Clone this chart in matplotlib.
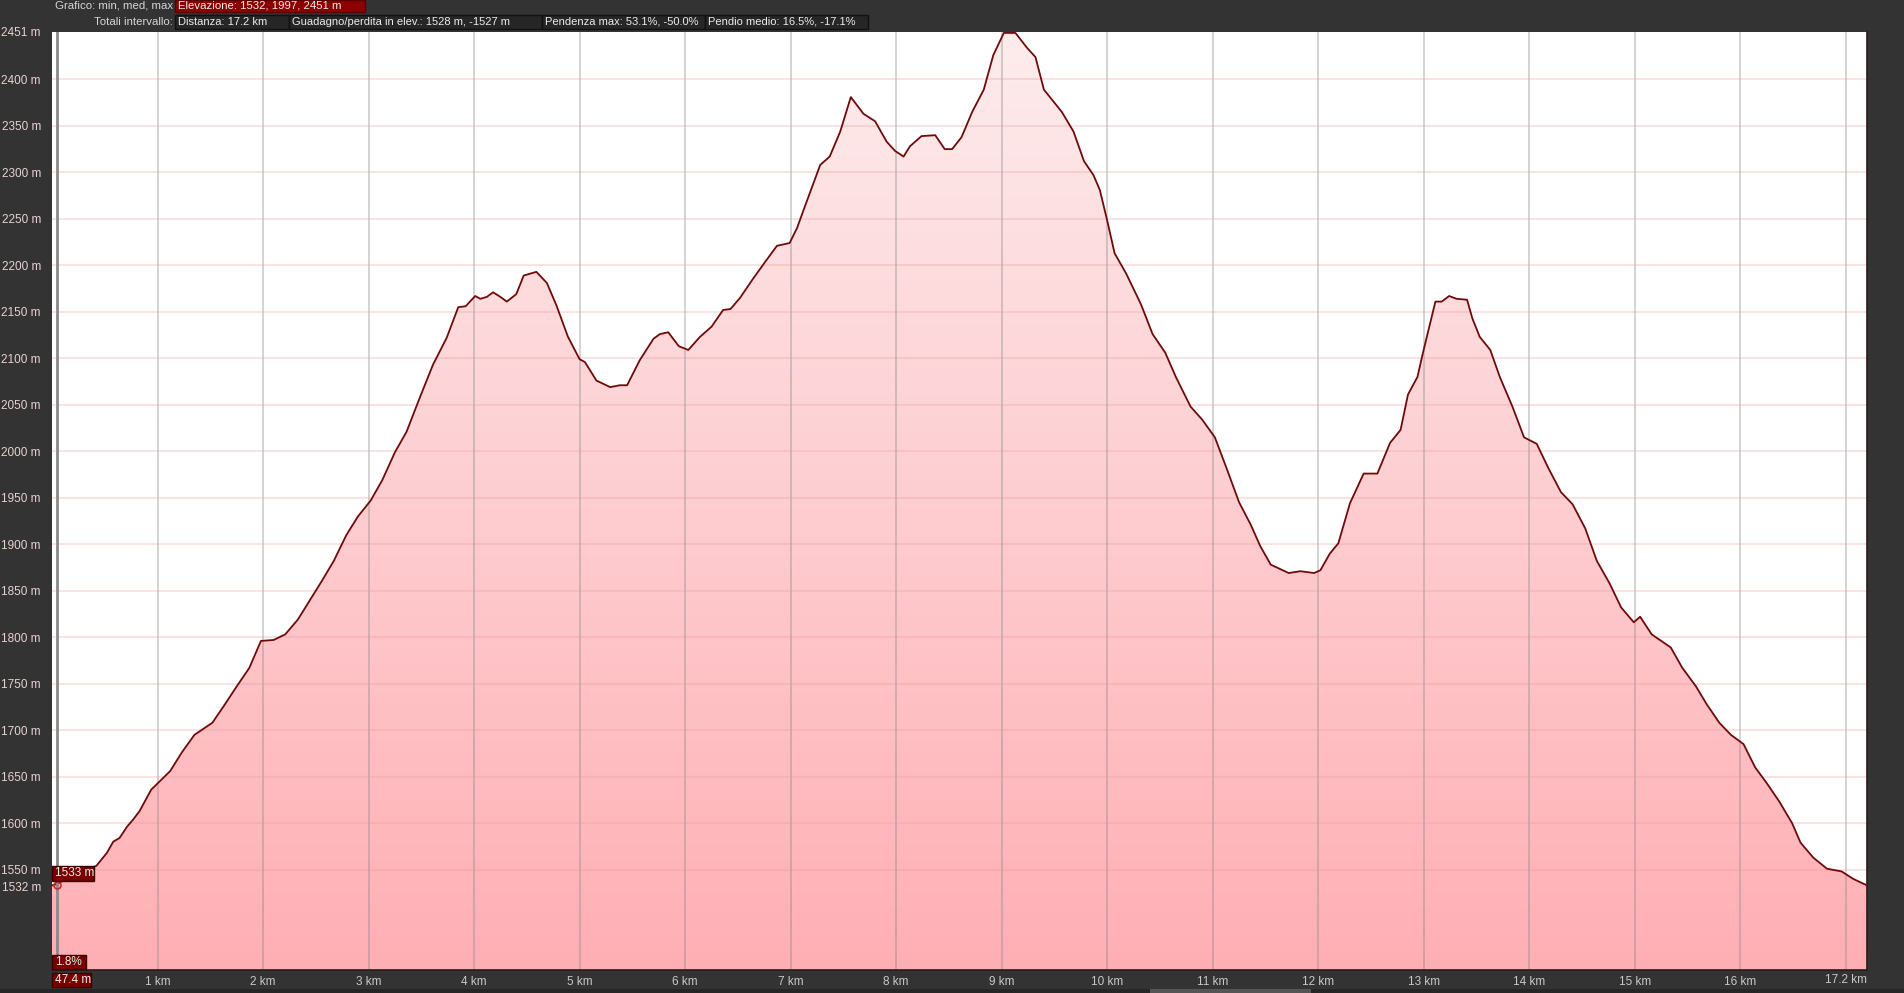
import numpy as np
import matplotlib.pyplot as plt
from matplotlib.patches import Rectangle
from matplotlib.colors import LinearSegmentedColormap

# elevation profile
dist_km = [0.00, 0.06, 0.20, 0.37, 0.42, 0.52, 0.58, 0.64, 0.71, 0.77, 0.83, 0.94,
           1.12, 1.23, 1.35, 1.52, 1.64, 1.75, 1.87, 1.98, 2.10, 2.21, 2.33, 2.44,
           2.56, 2.67, 2.79, 2.90, 3.02, 3.13, 3.25, 3.36, 3.49, 3.61, 3.74, 3.85,
           3.92, 4.01, 4.06, 4.12, 4.18, 4.25, 4.31, 4.40, 4.47, 4.53, 4.59, 4.69,
           4.78, 4.89, 5.00, 5.05, 5.16, 5.29, 5.38, 5.45, 5.57, 5.70, 5.76, 5.84,
           5.94, 6.03, 6.14, 6.25, 6.36, 6.43, 6.52, 6.64, 6.76, 6.87, 6.99, 7.06,
           7.14, 7.28, 7.37, 7.47, 7.57, 7.69, 7.80, 7.91, 7.99, 8.07, 8.13, 8.24,
           8.37, 8.46, 8.53, 8.62, 8.72, 8.83, 8.92, 9.02, 9.13, 9.24, 9.32, 9.40,
           9.57, 9.68, 9.78, 9.87, 9.93, 10.00, 10.07, 10.18, 10.32, 10.43, 10.55,
           10.65, 10.79, 10.90, 11.02, 11.13, 11.25, 11.36, 11.45, 11.55, 11.72,
           11.83, 11.96, 12.02, 12.11, 12.19, 12.30, 12.43, 12.56, 12.68, 12.78,
           12.85, 12.94, 12.99, 13.11, 13.17, 13.24, 13.31, 13.41, 13.46, 13.53,
           13.63, 13.72, 13.84, 13.95, 14.07, 14.18, 14.30, 14.41, 14.53, 14.64,
           14.76, 14.87, 14.99, 15.05, 15.16, 15.34, 15.45, 15.58, 15.68, 15.80,
           15.91, 16.03, 16.14, 16.25, 16.37, 16.49, 16.57, 16.69, 16.82, 16.96,
           17.07, 17.20]
elev_m = [1533, 1535, 1545, 1552, 1554, 1568, 1580, 1584, 1596, 1604, 1613, 1636,
          1656, 1676, 1695, 1708, 1728, 1747, 1767, 1796, 1797, 1803, 1819, 1839,
          1861, 1882, 1910, 1930, 1947, 1969, 1999, 2021, 2059, 2093, 2122, 2155,
          2156, 2167, 2164, 2166, 2171, 2166, 2161, 2169, 2189, 2191, 2193, 2181,
          2157, 2123, 2099, 2096, 2076, 2069, 2071, 2071, 2098, 2121, 2126, 2128,
          2113, 2109, 2123, 2134, 2152, 2153, 2165, 2185, 2204, 2221, 2224, 2240,
          2265, 2308, 2317, 2344, 2381, 2363, 2355, 2333, 2323, 2317, 2328, 2339,
          2340, 2325, 2325, 2338, 2365, 2389, 2426, 2450, 2450, 2434, 2424, 2389,
          2365, 2344, 2312, 2297, 2281, 2248, 2213, 2191, 2158, 2126, 2106,
          2080, 2048, 2034, 2015, 1982, 1945, 1921, 1898, 1878, 1869,
          1871, 1869, 1872, 1890, 1901, 1944, 1976, 1976, 2009, 2023,
          2061, 2080, 2105, 2161, 2161, 2167, 2164, 2163, 2143, 2123,
          2109, 2080, 2048, 2015, 2008, 1982, 1956, 1943, 1917, 1882,
          1858, 1832, 1816, 1822, 1803, 1789, 1767, 1747, 1728, 1708,
          1695, 1685, 1660, 1643, 1623, 1600, 1579, 1563, 1551, 1548,
          1540, 1533]

y_ticks = [1532, 1550, 1600, 1650, 1700, 1750, 1800, 1850, 1900, 1950, 2000,
           2050, 2100, 2150, 2200, 2250, 2300, 2350, 2400, 2451]
x_ticks = list(range(1, 17))
total_km = 17.2
cursor_km = 0.0474

header1 = "Elevazione: 1532, 1997, 2451 m"
header2 = ["Distanza: 17.2 km", "Guadagno/perdita in elev.: 1528 m, -1527 m",
           "Pendenza max: 53.1%, -50.0%", "Pendio medio: 16.5%, -17.1%"]

W, H = 1904, 993
BG = "#333333"
TXT = "#d6d6d6"
plt.rcParams['font.family'] = ['Liberation Sans', 'DejaVu Sans']

fig = plt.figure(figsize=(W / 100, H / 100), dpi=100, facecolor=BG)


def px(x, y):
    return x / W, 1 - y / H


# plot area in pixels
L, T, R, B = 52, 32, 1867, 970
ax = fig.add_axes([L / W, 1 - B / H, (R - L) / W, (B - T) / H])
ax.set_facecolor("white")
ymin, ymax = 1442, 2451
ax.set_xlim(0, total_km)
ax.set_ylim(ymin, ymax)

# gradient fill under the profile
cmap = LinearSegmentedColormap.from_list("pk", ["#ffafb4", "#fdeced"])
grad = np.linspace(0, 1, 256).reshape(-1, 1)
im = ax.imshow(grad, cmap=cmap, origin="lower", aspect="auto",
               extent=[0, total_km, ymin, ymax], zorder=1)
poly = ax.fill_between(dist_km, elev_m, ymin, color="none", zorder=1)
im.set_clip_path(poly.get_paths()[0], ax.transData)

# grid
for k in range(1, 18):
    ax.axvline(k, color="#808080", alpha=0.4, lw=1.2, zorder=2)
for v in y_ticks[1:-1]:
    ax.axhline(v, color="#e89898", alpha=0.3, lw=1.3, zorder=2)

ax.plot(dist_km, elev_m, color="#6e0a0a", lw=1.3, zorder=3)

# cursor
ax.axvline(cursor_km, color="#8a8a8a", lw=2, zorder=4)
ax.plot([cursor_km], [elev_m[0]], "o", ms=5, mfc="none", mec="#c03030", mew=1.2, zorder=5)

ax.set_yticks(y_ticks)
ax.set_yticklabels([f"{v} m" for v in y_ticks])
ax.set_xticks(x_ticks)
ax.set_xticklabels([f"{k} km" for k in x_ticks])
ax.tick_params(axis="y", length=0, pad=8, labelsize=8.5, colors="#e8d2d2")
ax.tick_params(axis="x", length=0, pad=4, labelsize=8.5, colors="#c8c8c8")
for s in ax.spines.values():
    s.set_color("#2a1a1a")
    s.set_linewidth(1.2)
ax.spines["top"].set_visible(False)
ax.spines["left"].set_visible(False)


# boxes in pixel space
def box(x0, y0, x1, y1, fc, ec, text, size=8.5):
    fx, fy = px(x0, y1)
    fig.patches.append(Rectangle((fx, fy), (x1 - x0) / W, (y1 - y0) / H,
                                 transform=fig.transFigure, fc=fc, ec=ec, lw=1))
    fig.text(*px(x0 + 3, (y0 + y1) / 2), text, color="#ececec", fontsize=size,
             ha="left", va="center")


box(52, 866, 94, 881, "#780000", "#3a0000", "1533 m")
box(52, 955, 86, 969, "#780000", "#3a0000", "1.8%")
box(52, 973, 91, 987, "#780000", "#3a0000", "47.4 m")
fig.text(*px(R, 980), f"{total_km} km", color="#c8c8c8", fontsize=8.5,
         ha="right", va="center")

# header
fig.text(*px(173, 6), "Grafico: min, med, max", color=TXT, fontsize=8.2,
         ha="right", va="center")
box(175, 0, 365, 12, "#8c0000", "#5a0000", header1, 8.2)
fig.text(*px(173, 22), "Totali intervallo:", color=TXT, fontsize=8.2,
         ha="right", va="center")
edges = [175, 289, 542, 705, 868]
for i, t in enumerate(header2):
    box(edges[i], 15, edges[i + 1], 29, "#262626", "#111111", t, 8.0)

# bottom scrollbar strip
fig.patches.append(Rectangle((0, 0), 1, 4 / H, transform=fig.transFigure,
                             fc="#262626", ec="none"))
fig.patches.append(Rectangle((1150 / W, 0), 161 / W, 4 / H, transform=fig.transFigure,
                             fc="#555555", ec="none"))

fig.savefig("out.png", dpi=100, facecolor=BG)
